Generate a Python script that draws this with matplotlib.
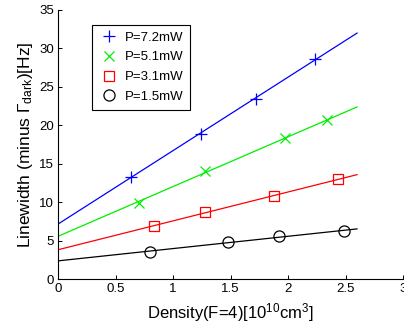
import matplotlib
matplotlib.use("Agg")
import matplotlib.pyplot as plt

plt.rcParams['font.family'] = ['Liberation Sans', 'DejaVu Sans']
plt.rcParams['mathtext.fontset'] = 'custom'
plt.rcParams['mathtext.rm'] = 'Liberation Sans'
plt.rcParams['mathtext.it'] = 'Liberation Sans:italic'

# Measured linewidths vs. density for each probe power
labels = ['P=7.2mW', 'P=5.1mW', 'P=3.1mW', 'P=1.5mW']
density_72 = [0.63, 1.24, 1.72, 2.23]
width_72 = [13.3, 18.9, 23.4, 28.6]
density_51 = [0.70, 1.28, 1.97, 2.34]
width_51 = [9.9, 14.1, 18.4, 20.7]
density_31 = [0.83, 1.28, 1.88, 2.43]
width_31 = [6.9, 8.8, 10.8, 13.0]
density_15 = [0.80, 1.48, 1.92, 2.49]
width_15 = [3.6, 4.8, 5.6, 6.3]

# Linear fits, given by their end points
fit_x = [0.0, 2.6]
fit_72 = [7.2, 32.0]
fit_51 = [5.6, 22.4]
fit_31 = [3.85, 13.6]
fit_15 = [2.4, 6.55]

colors = ['#0000ff', '#00ee00', '#ff0000', '#000000']
markers = ['+', 'x', 's', 'o']
msizes = [9, 7, 7, 8]

fig = plt.figure(figsize=(4.04, 3.25), dpi=100)
ax = fig.add_axes([58.3 / 404, 45.7 / 325, (403 - 58.3) / 404, (279.3 - 10) / 325])

series = [(density_72, width_72, fit_72), (density_51, width_51, fit_51),
          (density_31, width_31, fit_31), (density_15, width_15, fit_15)]
for (dx, wy, fy), c, m, ms, lab in zip(series, colors, markers, msizes, labels):
    ax.plot(fit_x, fy, color=c, lw=0.9)
    ax.plot(dx, wy, linestyle='none', marker=m, ms=ms, mfc='none', mec=c,
            mew=0.9, label=lab)

ax.set_xlim(0, 3)
ax.set_ylim(0, 35)
ax.set_xticks([0, 0.5, 1, 1.5, 2, 2.5, 3])
ax.set_xticklabels(['0', '0.5', '1', '1.5', '2', '2.5', '3'])
ax.set_yticks(range(0, 36, 5))
ax.tick_params(direction='in', length=3, width=0.7, labelsize=9.5, pad=3)
for s in ['top', 'right']:
    ax.spines[s].set_visible(False)
for s in ['left', 'bottom']:
    ax.spines[s].set_linewidth(0.8)

ax.set_xlabel(r'Density(F=4)[10$^{10}$cm$^{3}$]', fontsize=12, labelpad=4)
ax.set_ylabel(r'Linewidth (minus $\Gamma_{\rm dark}$)[Hz]', fontsize=12.5, labelpad=3)

leg = ax.legend(loc='upper left', bbox_to_anchor=(0.098, 0.945), fontsize=9.5,
                frameon=True, fancybox=False, edgecolor='black', framealpha=1,
                handlelength=1.6, handletextpad=0.35, borderpad=0.5,
                labelspacing=0.57, borderaxespad=0)
leg.get_frame().set_linewidth(0.8)

fig.savefig('out.png', dpi=100)
